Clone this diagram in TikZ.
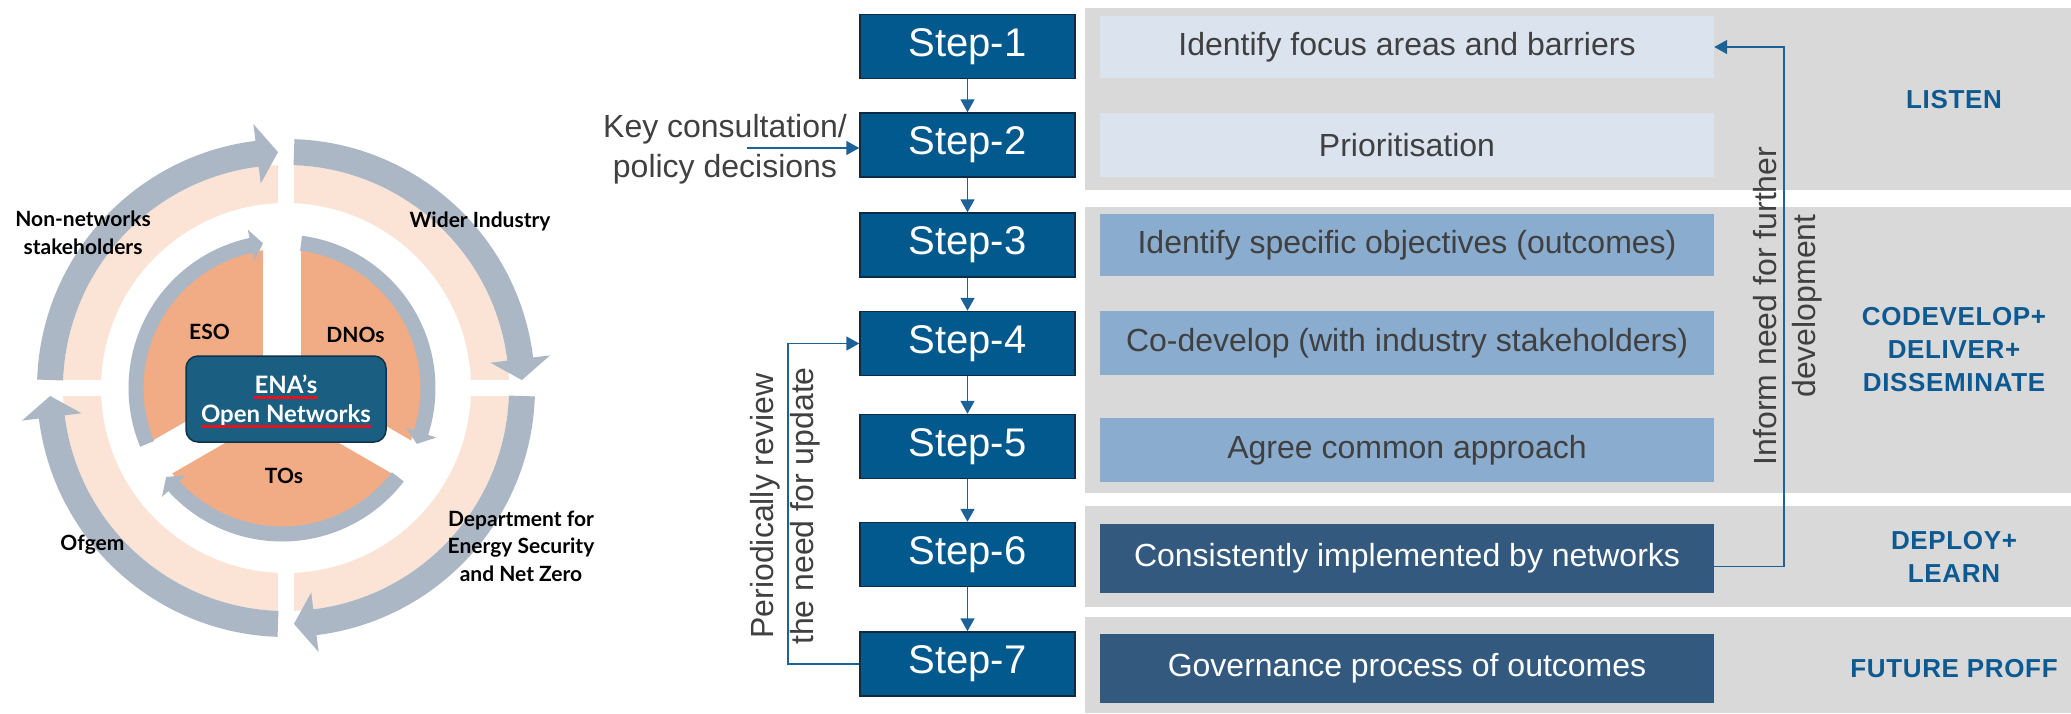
\documentclass[tikz,border=0pt]{standalone}
\usepackage{fontspec}
\setmainfont{Liberation Sans}
\newfontfamily\ringfont{Lato}
\newfontfamily\secfont{Liberation Sans}[LetterSpace=2.5]
\usetikzlibrary{arrows.meta,calc}

\definecolor{stepblue}{HTML}{02598E}
\definecolor{stepedge}{HTML}{0A2C48}
\definecolor{panelgrey}{HTML}{D9D9D9}
\definecolor{boxlight}{HTML}{DAE3EE}
\definecolor{boxmid}{HTML}{8AACCE}
\definecolor{boxdark}{HTML}{335A7E}
\definecolor{txtgrey}{HTML}{404040}
\definecolor{secblue}{HTML}{0D5A92}
\definecolor{linkblue}{HTML}{1A6298}
\definecolor{ringgrey}{HTML}{ABB7C4}
\definecolor{peachlight}{HTML}{FBE4D6}
\definecolor{peachdeep}{HTML}{F2AC85}
\definecolor{enafill}{HTML}{1A5E82}
\definecolor{enaedge}{HTML}{10324A}
\definecolor{spellred}{HTML}{E3141B}

% curved band arrow: tail, head-base and tip angles; band inner/outer radius;
% head inner/outer radius; radius of the tip
\newcommand\ringarrow[8]{%
  \fill[ringgrey] (#1:#5) arc[start angle=#1, end angle=#2, radius=#5]
    -- (#2:#7) -- (#3:#8) -- (#2:#6) -- (#2:#4)
    arc[start angle=#2, end angle=#1, radius=#4] -- cycle;}

\tikzset{
  stepbox/.style={draw=stepedge, line width=1.5pt, fill=stepblue, text=white,
    minimum width=215pt, minimum height=64pt, inner sep=0pt,
    font=\fontsize{40}{48}\selectfont},
  taskbox/.style={minimum width=614pt, inner sep=0pt, font=\fontsize{32}{38}\selectfont},
  lightbox/.style={taskbox, fill=boxlight, text=txtgrey},
  midbox/.style={taskbox, fill=boxmid, text=txtgrey},
  darkbox/.style={taskbox, fill=boxdark, text=white},
  seclabel/.style={text=secblue, align=center, inner sep=0pt,
    font=\secfont\bfseries\fontsize{26}{33}\selectfont},
  note/.style={text=txtgrey, align=center, inner sep=0pt,
    font=\fontsize{32}{40}\selectfont},
  link/.style={draw=linkblue, line width=1.6pt},
  linkarrow/.style={link, -{Triangle[length=13pt,width=14pt]}},
  ringlabel/.style={font=\ringfont\bfseries\fontsize{21}{28}\selectfont,
    align=center, inner sep=0pt},
  enatext/.style={font=\ringfont\bfseries\fontsize{24}{28}\selectfont,
    text=white, inner sep=0pt, anchor=base},
  spell/.style={draw=spellred, line width=2.5pt}
}

\begin{document}
\begin{tikzpicture}[x=1pt,y=1pt]
\useasboundingbox (0,0) rectangle (2071,-713);
\fill[white] (0,0) rectangle (2071,-713);

% ---------- stakeholder ring ----------
\begin{scope}[shift={(286,-388)}]
  \fill[peachlight, even odd rule] (0,0) circle[radius=223] (0,0) circle[radius=185];
  \fill[white] (-8,170) rectangle (8,270);
  \fill[white] (-8,-170) rectangle (8,-270);
  \fill[white] (-270,-8) rectangle (-170,8);
  \fill[white] (170,-8) rectangle (270,8);
  \ringarrow{178.06}{97.04}{91.94}{223}{249}{206}{266}{236}
  \ringarrow{88.06}{7.04}{1.94}{223}{249}{206}{266}{236}
  \ringarrow{-1.94}{-82.96}{-88.06}{223}{249}{206}{266}{236}
  \ringarrow{-91.94}{-172.96}{-178.06}{223}{249}{206}{266}{236}
\end{scope}

% ---------- network operators pie ----------
\begin{scope}[shift={(282,-388)}]
  \fill[peachdeep] (0,0) circle[radius=139];
  \foreach \a in {90,210,330}
    \fill[white, rotate=\a] (0,-19) rectangle (165,19);
  \ringarrow{202.5}{102.2}{97.5}{138.5}{153.5}{130}{162}{146}
  \ringarrow{82.5}{-17.8}{-22.5}{138.5}{153.5}{130}{162}{146}
  \ringarrow{-37.5}{-137.8}{-142.5}{138.5}{153.5}{130}{162}{146}
\end{scope}

\node[draw=enaedge, line width=1.5pt, fill=enafill, rounded corners=12pt,
  minimum width=200pt, minimum height=86pt] (ena) at (286,-399) {};
\node[enatext] (ena1) at (286,-393) {ENA’s};
\node[enatext] (ena2) at (286,-422) {Open Networks};
\draw[spell] ([yshift=-4.5pt]ena1.base west) -- ([yshift=-4.5pt]ena1.base east);
\draw[spell] ([yshift=-4.5pt]ena2.base west) -- ([yshift=-4.5pt]ena2.base east);

\node[ringlabel] (nonnet) at (83,-233) {Non-networks\\stakeholders};
\node[ringlabel, anchor=base] (wider) at (480,-227) {Wider Industry};
\node[ringlabel, anchor=base] (eso) at (209.5,-339) {ESO};
\node[ringlabel, anchor=base] (dnos) at (355.5,-342) {DNOs};
\node[ringlabel, anchor=base] (tos) at (284,-483) {TOs};
\node[ringlabel, anchor=base] (ofgem) at (92.5,-550) {Ofgem};
\node[ringlabel, font=\ringfont\bfseries\fontsize{21}{27.5}\selectfont]
  (desnz) at (521,-546) {Department for\\Energy Security\\and Net Zero};

% ---------- phase panels ----------
\fill[panelgrey] (1085,-8) rectangle (2071,-190);
\fill[panelgrey] (1085,-207) rectangle (2071,-493);
\fill[panelgrey] (1085,-506) rectangle (2071,-607);
\fill[panelgrey] (1085,-617) rectangle (2071,-713);

\node[seclabel] (listen) at (1954,-100) {LISTEN};
\node[seclabel] (codev) at (1954,-350) {CODEVELOP+\\DELIVER+\\DISSEMINATE};
\node[seclabel] (deploy) at (1954,-557) {DEPLOY+\\LEARN};
\node[seclabel] (future) at (1954,-668.5) {FUTURE PROFF};

% ---------- activity boxes ----------
\node[lightbox, minimum height=62pt] (b1) at (1407,-47) {Identify focus areas and barriers};
\node[lightbox, minimum height=64pt] (b2) at (1407,-145) {Prioritisation};
\node[midbox, minimum height=62pt] (b3) at (1407,-245) {Identify specific objectives (outcomes)};
\node[midbox, minimum height=64pt] (b4) at (1407,-343) {Co-develop (with industry stakeholders)};
\node[midbox, minimum height=64pt] (b5) at (1407,-450) {Agree common approach};
\node[darkbox, minimum height=69pt] (b6) at (1407,-558.5) {Consistently implemented by networks};
\node[darkbox, minimum height=69pt] (b7) at (1407,-668.5) {Governance process of outcomes};

% ---------- steps ----------
\node[stepbox] (s1) at (967.5,-46.5) {Step-1};
\node[stepbox] (s2) at (967.5,-145) {Step-2};
\node[stepbox] (s3) at (967.5,-245) {Step-3};
\node[stepbox] (s4) at (967.5,-343.5) {Step-4};
\node[stepbox] (s5) at (967.5,-446.5) {Step-5};
\node[stepbox] (s6) at (967.5,-554.5) {Step-6};
\node[stepbox] (s7) at (967.5,-664) {Step-7};

\foreach \a/\b in {s1/s2,s2/s3,s3/s4,s4/s5,s5/s6,s6/s7}
  \draw[linkarrow] (\a.south) -- (\b.north);

% input and feedback connectors
\node[note] (keytxt) at (725,-149) {Key consultation/\\policy decisions};
\coordinate (kfrom) at (747,-148);
\draw[linkarrow] (kfrom) -- (kfrom -| s2.west);

\coordinate (rv) at (788,-664);
\draw[linkarrow] (s7.west) -- (rv) |- (s4.west);
\node[note, rotate=90] (revtxt) at (785.5,-506) {Periodically review\\the need for update};

\coordinate (inf) at (1784,-47);
\draw[linkarrow] ([yshift=-8pt]b6.east) -| (inf) -- (b1.east);
\node[note, rotate=90, font=\fontsize{32}{39}\selectfont] (inftxt) at (1787.5,-306)
  {Inform need for further\\development};
\end{tikzpicture}
\end{document}
